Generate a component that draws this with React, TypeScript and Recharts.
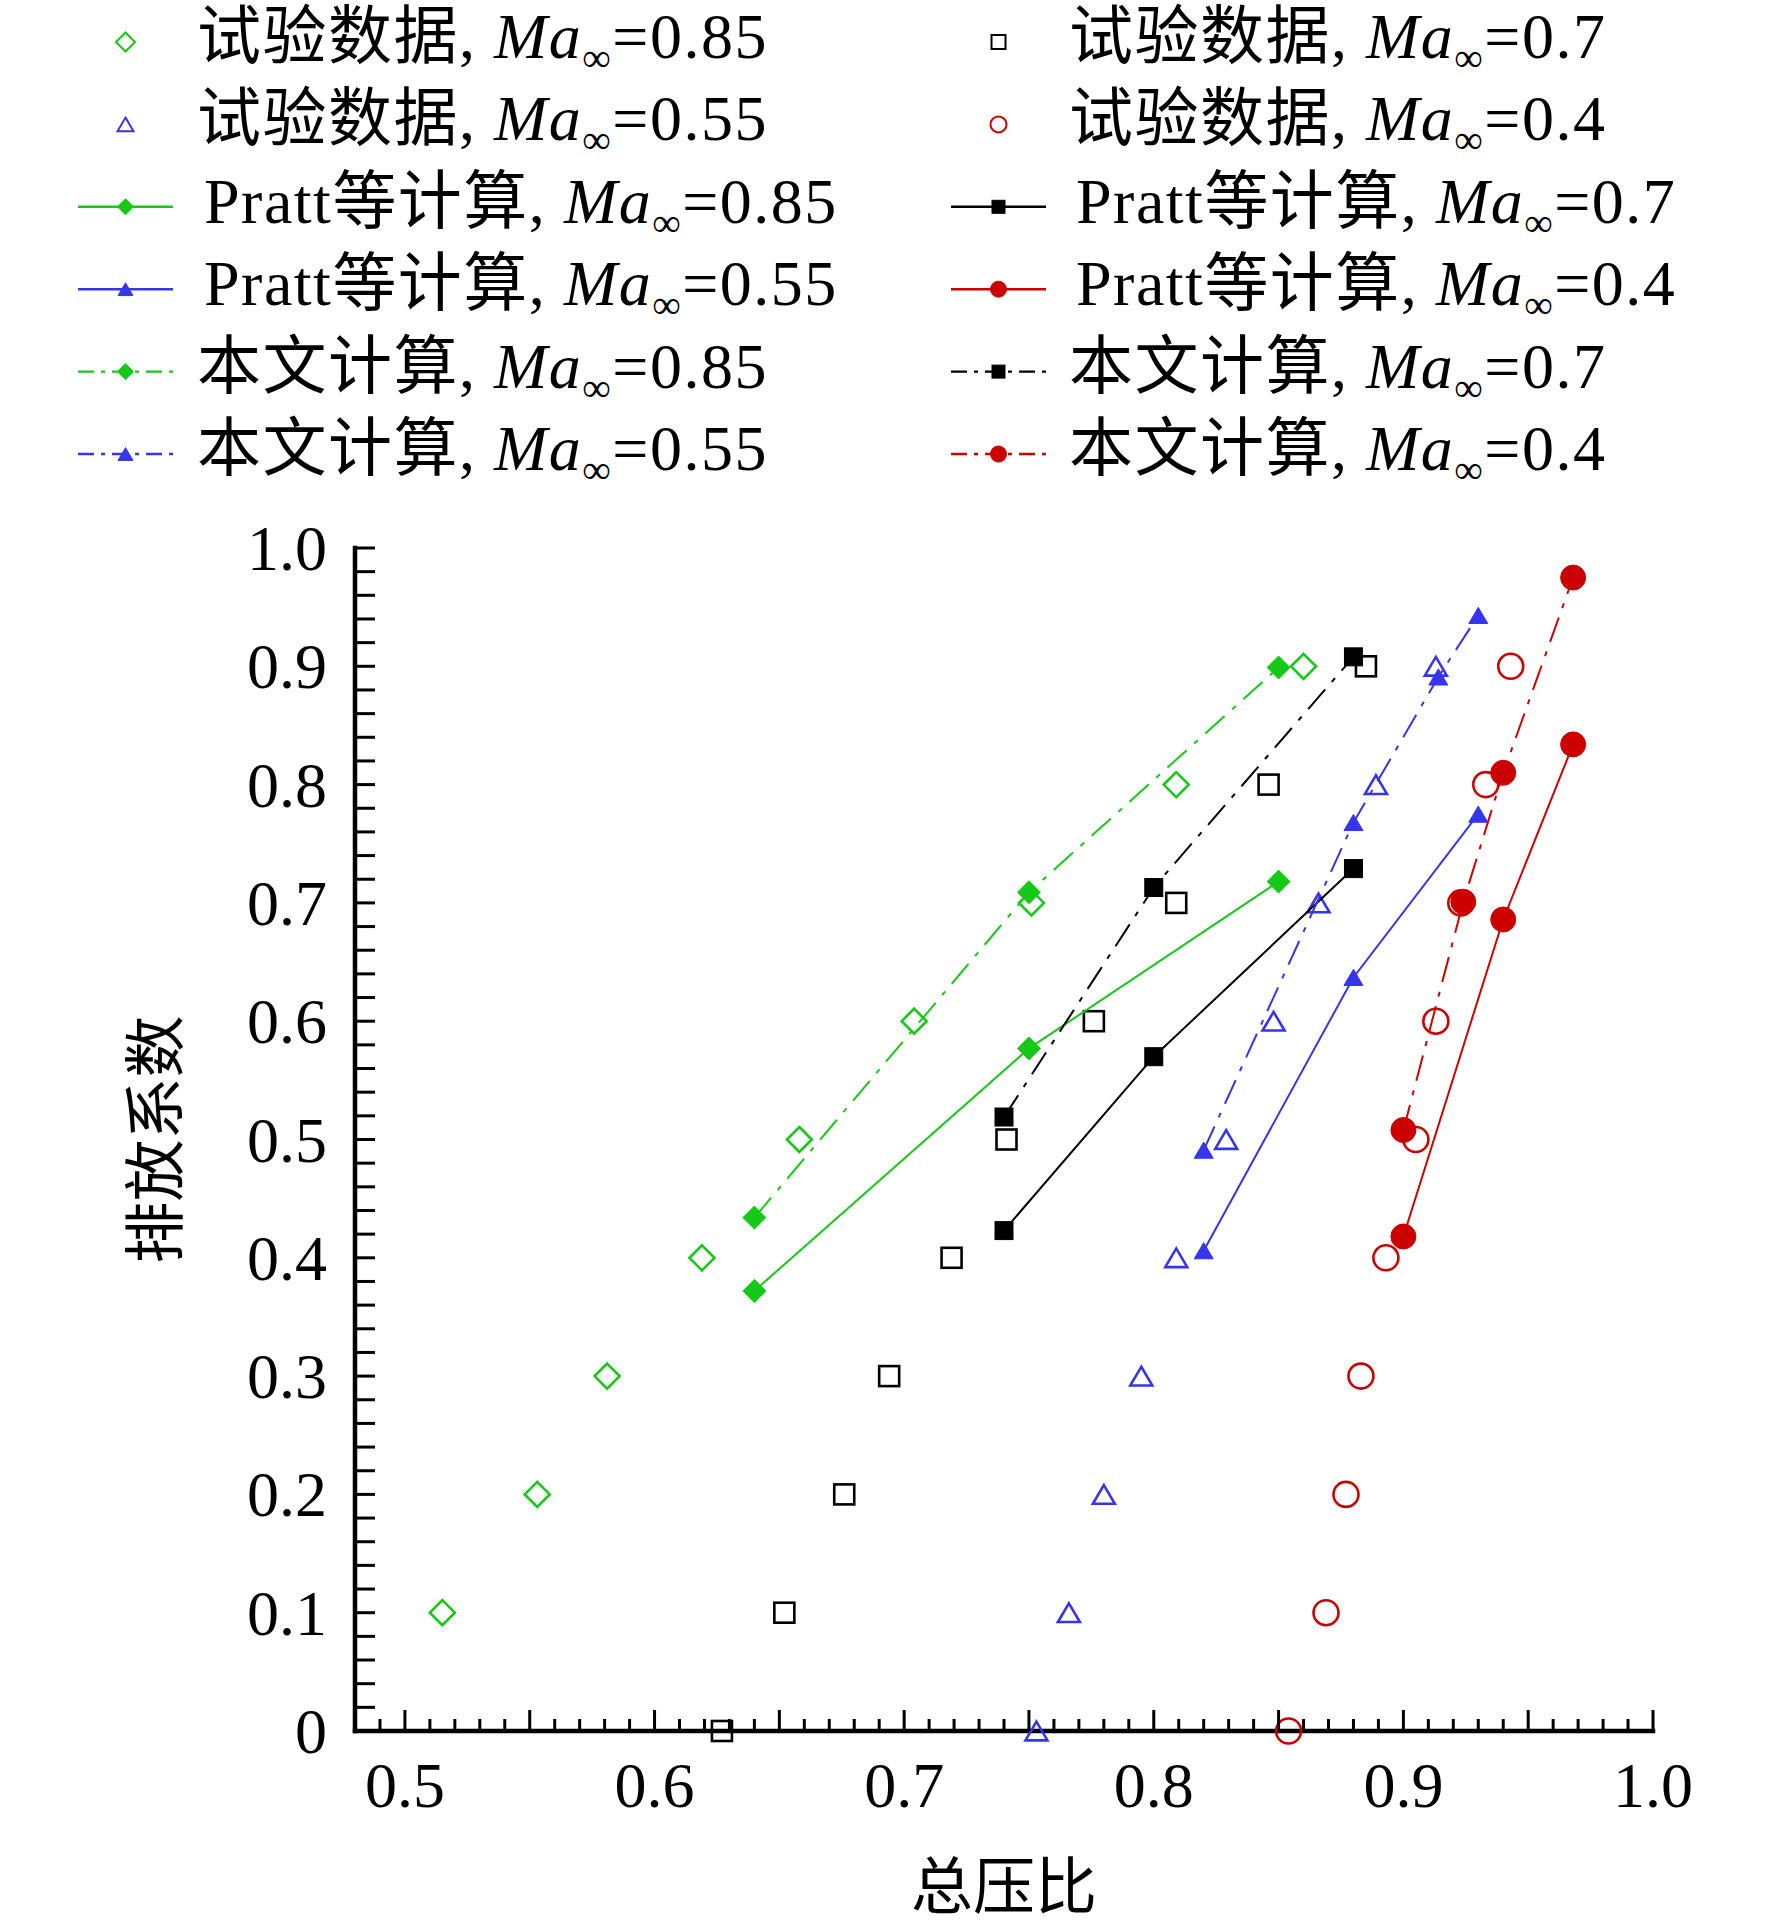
import React from 'react';
import { ScatterChart, Scatter, XAxis, YAxis, Legend } from 'recharts';

const W = 1772;
const H = 1932;
const FONT = "'Liberation Serif', 'Noto Sans CJK SC', serif";

const GREEN = '#17C917';
const BLUE = '#3535EE';
const RED = '#CC0000';
const BLACK = '#000000';

// ---------- axes ----------
const X_DOMAIN = [0.48, 1.0];
const X_LABEL_TICKS = [0.5, 0.6, 0.7, 0.8, 0.9, 1.0];
const X_TICK_LABELS = ['0.5', '0.6', '0.7', '0.8', '0.9', '1.0'];
const Y_DOMAIN = [0, 1.0];
const Y_LABEL_TICKS = [0, 0.1, 0.2, 0.3, 0.4, 0.5, 0.6, 0.7, 0.8, 0.9, 1.0];
const Y_TICK_LABELS = ['0', '0.1', '0.2', '0.3', '0.4', '0.5', '0.6', '0.7', '0.8', '0.9', '1.0'];
const X_ALL_TICKS = Array.from({ length: 53 }, (_, i) => (48 + i) / 100);
const Y_ALL_TICKS = Array.from({ length: 51 }, (_, i) => (2 * i) / 100);
const X_TITLE = '总压比';
const Y_TITLE = '排放系数';

// ---------- test data (试验数据) ----------
const TEST_085_X = [0.515, 0.553, 0.581, 0.619, 0.658, 0.704, 0.751, 0.809, 0.860];
const TEST_085_Y = [0.1, 0.2, 0.3, 0.4, 0.5, 0.6, 0.7, 0.8, 0.9];
const TEST_07_X = [0.627, 0.652, 0.676, 0.694, 0.719, 0.741, 0.776, 0.809, 0.846, 0.885];
const TEST_07_Y = [0, 0.1, 0.2, 0.3, 0.4, 0.5, 0.6, 0.7, 0.8, 0.9];
const TEST_055_X = [0.753, 0.766, 0.780, 0.795, 0.809, 0.829, 0.848, 0.866, 0.889, 0.913];
const TEST_055_Y = [0, 0.1, 0.2, 0.3, 0.4, 0.5, 0.6, 0.7, 0.8, 0.9];
const TEST_04_X = [0.854, 0.869, 0.877, 0.883, 0.893, 0.905, 0.913, 0.923, 0.933, 0.943];
const TEST_04_Y = [0, 0.1, 0.2, 0.3, 0.4, 0.5, 0.6, 0.7, 0.8, 0.9];

// ---------- Pratt等计算 ----------
const PRATT_085_X = [0.64, 0.75, 0.85];
const PRATT_085_Y = [0.372, 0.577, 0.718];
const PRATT_07_X = [0.74, 0.80, 0.88];
const PRATT_07_Y = [0.423, 0.570, 0.729];
const PRATT_055_X = [0.82, 0.88, 0.93];
const PRATT_055_Y = [0.406, 0.637, 0.775];
const PRATT_04_X = [0.90, 0.94, 0.968];
const PRATT_04_Y = [0.418, 0.686, 0.834];

// ---------- 本文计算 ----------
const CALC_085_X = [0.64, 0.75, 0.85];
const CALC_085_Y = [0.434, 0.709, 0.899];
const CALC_07_X = [0.74, 0.80, 0.88];
const CALC_07_Y = [0.519, 0.713, 0.908];
const CALC_055_X = [0.82, 0.88, 0.914, 0.93];
const CALC_055_Y = [0.491, 0.768, 0.891, 0.943];
const CALC_04_X = [0.90, 0.924, 0.94, 0.968];
const CALC_04_Y = [0.508, 0.701, 0.810, 0.975];

// ---------- legend ----------
const LEGEND_PREFIX = ['试验数据', '试验数据', 'Pratt等计算', 'Pratt等计算', '本文计算', '本文计算'];
const LEGEND_MACH_LEFT = ['0.85', '0.55', '0.85', '0.55', '0.85', '0.55'];
const LEGEND_MACH_RIGHT = ['0.7', '0.4', '0.7', '0.4', '0.7', '0.4'];

const toPts = (xs: number[], ys: number[]) => xs.map((x, i) => ({ x, y: ys[i] }));

type Kind = 'diamond' | 'square' | 'triangle' | 'circle';
const DASHDOT = '26 10 5 10';
const LEGEND_H = 530;

interface Style {
  kind: Kind;
  color: string;
  filled: boolean;
  line: 'none' | 'solid' | 'dashdot';
}

const MarkerShape = ({ kind, cx, cy, size, color, filled, sw }: any) => {
  const fill = filled ? color : 'none';
  const stroke = color;
  const strokeWidth = filled ? 1 : sw;
  const h = size / 2;
  if (kind === 'diamond') {
    return <path d={`M${cx},${cy - h}L${cx + h},${cy}L${cx},${cy + h}L${cx - h},${cy}Z`} fill={fill} stroke={stroke} strokeWidth={strokeWidth} />;
  }
  if (kind === 'square') {
    return <rect x={cx - h} y={cy - h} width={size} height={size} fill={fill} stroke={stroke} strokeWidth={strokeWidth} />;
  }
  if (kind === 'triangle') {
    const th = size * 0.85;
    return <path d={`M${cx},${cy - th / 2}L${cx + h},${cy + th / 2}L${cx - h},${cy + th / 2}Z`} fill={fill} stroke={stroke} strokeWidth={strokeWidth} />;
  }
  return <circle cx={cx} cy={cy} r={h} fill={fill} stroke={stroke} strokeWidth={strokeWidth} />;
};

const CHART_SIZE: Record<string, number> = {
  'diamond-h': 25, 'diamond-f': 23,
  'square-h': 20, 'square-f': 18,
  'triangle-h': 22, 'triangle-f': 19,
  'circle-h': 25, 'circle-f': 25,
};
const LEGEND_SIZE: Record<string, number> = {
  'diamond-h': 19, 'diamond-f': 16,
  'square-h': 14, 'square-f': 13,
  'triangle-h': 16, 'triangle-f': 15,
  'circle-h': 16, 'circle-f': 16,
};

const makeShape = (st: Style) => (props: any) => {
  const key = `${st.kind}-${st.filled ? 'f' : 'h'}`;
  return (
    <MarkerShape kind={st.kind} cx={props.cx} cy={props.cy} size={CHART_SIZE[key]} color={st.color} filled={st.filled} sw={2.6} />
  );
};

const SERIES: { id: string; data: { x: number; y: number }[]; style: Style }[] = [
  { id: 't085', data: toPts(TEST_085_X, TEST_085_Y), style: { kind: 'diamond', color: GREEN, filled: false, line: 'none' } },
  { id: 't07', data: toPts(TEST_07_X, TEST_07_Y), style: { kind: 'square', color: BLACK, filled: false, line: 'none' } },
  { id: 't055', data: toPts(TEST_055_X, TEST_055_Y), style: { kind: 'triangle', color: BLUE, filled: false, line: 'none' } },
  { id: 't04', data: toPts(TEST_04_X, TEST_04_Y), style: { kind: 'circle', color: RED, filled: false, line: 'none' } },
  { id: 'p085', data: toPts(PRATT_085_X, PRATT_085_Y), style: { kind: 'diamond', color: GREEN, filled: true, line: 'solid' } },
  { id: 'p07', data: toPts(PRATT_07_X, PRATT_07_Y), style: { kind: 'square', color: BLACK, filled: true, line: 'solid' } },
  { id: 'p055', data: toPts(PRATT_055_X, PRATT_055_Y), style: { kind: 'triangle', color: BLUE, filled: true, line: 'solid' } },
  { id: 'p04', data: toPts(PRATT_04_X, PRATT_04_Y), style: { kind: 'circle', color: RED, filled: true, line: 'solid' } },
  { id: 'c085', data: toPts(CALC_085_X, CALC_085_Y), style: { kind: 'diamond', color: GREEN, filled: true, line: 'dashdot' } },
  { id: 'c07', data: toPts(CALC_07_X, CALC_07_Y), style: { kind: 'square', color: BLACK, filled: true, line: 'dashdot' } },
  { id: 'c055', data: toPts(CALC_055_X, CALC_055_Y), style: { kind: 'triangle', color: BLUE, filled: true, line: 'dashdot' } },
  { id: 'c04', data: toPts(CALC_04_X, CALC_04_Y), style: { kind: 'circle', color: RED, filled: true, line: 'dashdot' } },
];

// legend cell order: left column then right column, rows top to bottom
const LEGEND_LEFT_IDS = ['t085', 't055', 'p085', 'p055', 'c085', 'c055'];
const LEGEND_RIGHT_IDS = ['t07', 't04', 'p07', 'p04', 'c07', 'c04'];

const XTick = (props: any) => {
  const { x, y, payload } = props;
  const v = payload.value;
  const hundredths = Math.round(v * 100);
  const isLong = hundredths % 5 === 0;
  const idx = X_LABEL_TICKS.findIndex((t) => Math.abs(t - v) < 1e-6);
  return (
    <g>
      <line x1={x} x2={x} y1={y} y2={y - (isLong ? 21 : 12)} stroke="#000" strokeWidth={3} />
      {idx >= 0 && (
        <text x={x} y={y + 76} textAnchor="middle" fontFamily={FONT} fontSize={64} fill="#000">
          {X_TICK_LABELS[idx]}
        </text>
      )}
    </g>
  );
};

const YTick = (props: any) => {
  const { x, y, payload } = props;
  const v = payload.value;
  const idx = Y_LABEL_TICKS.findIndex((t) => Math.abs(t - v) < 1e-6);
  return (
    <g>
      <line x1={x} x2={x + 20} y1={y} y2={y} stroke="#000" strokeWidth={3} />
      {idx >= 0 && (
        <text x={x - 28} y={y + 22} textAnchor="end" fontFamily={FONT} fontSize={64} fill="#000">
          {Y_TICK_LABELS[idx]}
        </text>
      )}
    </g>
  );
};

const XTitle = (props: any) => {
  const vb = props.viewBox || { x: 355, y: 1731, width: 1298, height: 150 };
  return (
    <text x={vb.x + vb.width / 2} y={vb.y + 157} textAnchor="middle" dominantBaseline="central" fontFamily={FONT} fontSize={62} fill="#000">
      {X_TITLE}
    </text>
  );
};

const YTitle = (props: any) => {
  const vb = props.viewBox || { x: 155, y: 548, width: 200, height: 1183 };
  const cx = vb.x + vb.width - 198;
  const cy = vb.y + vb.height / 2;
  return (
    <text x={cx} y={cy} transform={`rotate(-90 ${cx} ${cy})`} textAnchor="middle" dominantBaseline="central" fontFamily={FONT} fontSize={62} fill="#000">
      {Y_TITLE}
    </text>
  );
};

const LegendCell = ({ id, prefix, mach, lineX1, lineX2, textX, baseline }: any) => {
  const s = SERIES.find((d) => d.id === id)!.style;
  const my = baseline - 16;
  const mx = (lineX1 + lineX2) / 2;
  const key = `${s.kind}-${s.filled ? 'f' : 'h'}`;
  const tx = prefix.startsWith('Pratt') ? textX + 7 : textX;
  return (
    <g>
      {s.line !== 'none' && (
        <line x1={lineX1} x2={lineX2} y1={my} y2={my} stroke={s.color} strokeWidth={2.4} strokeDasharray={s.line === 'dashdot' ? '16 7 4 7' : undefined} />
      )}
      <MarkerShape kind={s.kind} cx={mx} cy={my} size={LEGEND_SIZE[key]} color={s.color} filled={s.filled} sw={2} />
      <text x={tx} y={baseline} fontFamily={FONT} fontSize={64} letterSpacing={1.5} fill="#000">
        <tspan>{prefix + ', '}</tspan>
        <tspan fontStyle="italic">Ma</tspan>
        <tspan fontSize={40} dy={13}>∞</tspan>
        <tspan dy={-13}>{'=' + mach}</tspan>
      </text>
    </g>
  );
};

const LegendContent = () => (
  <svg width={W} height={LEGEND_H} style={{ display: 'block', overflow: 'visible' }}>
    {LEGEND_PREFIX.map((p, r) => {
      const baseline = 58 + r * 82.4;
      return (
        <g key={r}>
          <LegendCell id={LEGEND_LEFT_IDS[r]} prefix={p} mach={LEGEND_MACH_LEFT[r]} lineX1={78} lineX2={173} textX={197} baseline={baseline} />
          <LegendCell id={LEGEND_RIGHT_IDS[r]} prefix={p} mach={LEGEND_MACH_RIGHT[r]} lineX1={951} lineX2={1046} textX={1069} baseline={baseline} />
        </g>
      );
    })}
  </svg>
);

export default function App() {
  return (
    <div style={{ position: 'absolute', left: 0, top: 0, width: W, height: H, background: '#fff' }}>
      <ScatterChart width={W} height={H} margin={{ top: 548, right: 119, left: 155, bottom: 51 }}>
        <XAxis
          type="number"
          dataKey="x"
          domain={X_DOMAIN}
          ticks={X_ALL_TICKS}
          interval={0}
          tick={<XTick />}
          tickLine={false}
          tickSize={0}
          tickMargin={0}
          axisLine={{ stroke: '#000', strokeWidth: 4.5, strokeLinecap: 'square' }}
          height={150}
          label={<XTitle />}
        />
        <YAxis
          type="number"
          dataKey="y"
          domain={Y_DOMAIN}
          ticks={Y_ALL_TICKS}
          interval={0}
          tick={<YTick />}
          tickLine={false}
          tickSize={0}
          tickMargin={0}
          axisLine={{ stroke: '#000', strokeWidth: 4.5, strokeLinecap: 'square' }}
          width={200}
          label={<YTitle />}
        />
        <Legend
          layout="vertical"
          align="center"
          verticalAlign="middle"
          wrapperStyle={{ left: 0, top: 0, width: W, height: LEGEND_H, overflow: 'visible' }}
          content={() => <LegendContent />}
        />
        {SERIES.map((s) => (
          <Scatter
            key={s.id}
            name={s.id}
            data={s.data}
            fill={s.style.color}
            isAnimationActive={false}
            shape={makeShape(s.style)}
            line={
              s.style.line === 'none'
                ? false
                : { stroke: s.style.color, strokeWidth: 2, strokeDasharray: s.style.line === 'dashdot' ? DASHDOT : undefined }
            }
            lineType="joint"
            lineJointType="linear"
          />
        ))}
      </ScatterChart>
    </div>
  );
}
